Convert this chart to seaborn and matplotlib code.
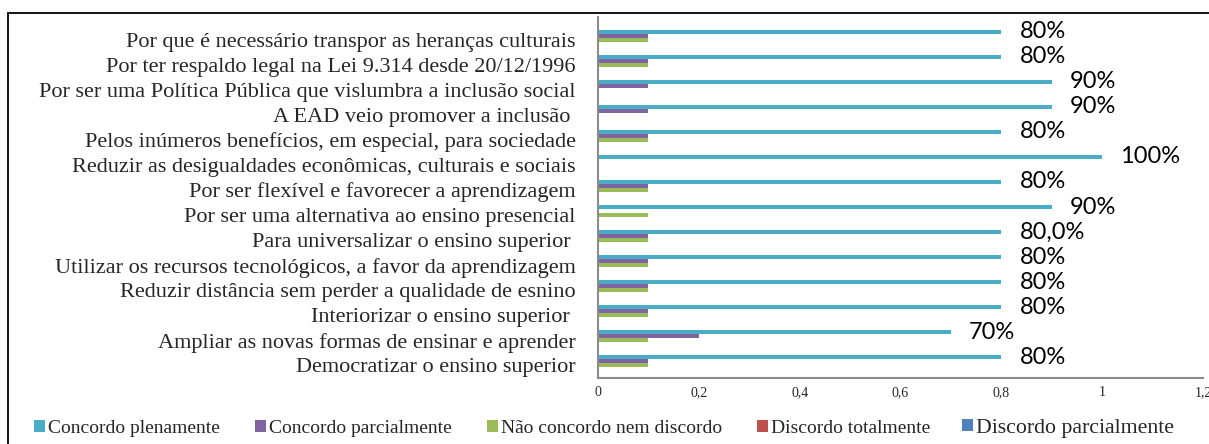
import numpy as np
import pandas as pd
import matplotlib.pyplot as plt
import seaborn as sns

# categorias (de cima para baixo)
motivos = [
    'Por que é necessário transpor as heranças culturais',
    'Por ter respaldo legal na Lei 9.314 desde 20/12/1996',
    'Por ser uma Política Pública que vislumbra a inclusão social',
    'A EAD veio promover a inclusão ',
    'Pelos inúmeros benefícios, em especial, para sociedade',
    'Reduzir as desigualdades econômicas, culturais e sociais',
    'Por ser flexível e favorecer a aprendizagem',
    'Por ser uma alternativa ao ensino presencial',
    'Para universalizar o ensino superior ',
    'Utilizar os recursos tecnológicos, a favor da aprendizagem',
    'Reduzir distância sem perder a qualidade de esnino',
    'Interiorizar o ensino superior ',
    'Ampliar as novas formas de ensinar e aprender',
    'Democratizar o ensino superior',
]

respostas = ['Concordo plenamente', 'Concordo parcialmente', 'Não concordo nem discordo',
             'Discordo totalmente', 'Discordo parcialmente']

concordo_plenamente = [0.8, 0.8, 0.9, 0.9, 0.8, 1.0, 0.8, 0.9, 0.8, 0.8, 0.8, 0.8, 0.7, 0.8]
concordo_parcialmente = [0.1, 0.1, 0.1, 0.1, 0.1, 0.0, 0.1, 0.0, 0.1, 0.1, 0.1, 0.1, 0.2, 0.1]
nem_concordo = [0.1, 0.1, 0.0, 0.0, 0.1, 0.0, 0.1, 0.1, 0.1, 0.1, 0.1, 0.1, 0.1, 0.1]
discordo_totalmente = [0.0] * 14
discordo_parcialmente = [0.0] * 14

rotulos = ['80%', '80%', '90%', '90%', '80%', '100%', '80%', '90%', '80,0%',
           '80%', '80%', '80%', '70%', '80%']
xticks = [0, 0.2, 0.4, 0.6, 0.8, 1.0, 1.2]
xticklabels = ['0', '0,2', '0,4', '0,6', '0,8', '1', '1,2']

cores = ['#4BACC6', '#8064A2', '#9BBB59', '#C0504D', '#4F81BD']

series = [concordo_plenamente, concordo_parcialmente, nem_concordo,
          discordo_totalmente, discordo_parcialmente]
df = pd.DataFrame({
    'motivo': motivos * len(respostas),
    'resposta': np.repeat(respostas, len(motivos)),
    'valor': np.concatenate(series),
})

sns.set_style('white')
plt.rcParams['font.family'] = ['Liberation Serif', 'DejaVu Serif']

W, H = 1209, 444
fig = plt.figure(figsize=(W / 100, H / 100), dpi=100)
ax = fig.add_axes([598 / W, 1 - 378 / H, (1203 - 598) / W, (378 - 17) / H])

sns.barplot(data=df, x='valor', y='motivo', hue='resposta', hue_order=respostas,
            order=motivos, palette=cores, saturation=1, orient='h', width=0.8,
            linewidth=0, ax=ax)

ax.set_xlim(0, 1.2)
ax.set_ylim(13.5, -0.9)
ax.set_xticks(xticks)
ax.set_xticklabels(xticklabels, fontsize=10)
ax.tick_params(axis='x', length=0, pad=6)
ax.tick_params(axis='y', length=0, pad=16, labelsize=16)
ax.set_xlabel('')
ax.set_ylabel('')
for s in ['top', 'right']:
    ax.spines[s].set_visible(False)
for s in ['left', 'bottom']:
    ax.spines[s].set_color('#8c8c8c')
    ax.spines[s].set_linewidth(1.5)

ax.bar_label(ax.containers[0], labels=rotulos, padding=13, fontsize=17,
             family='Lato', color='black')

handles, labels = ax.get_legend_handles_labels()
ax.get_legend().remove()
leg_x = [34, 255, 487, 757, 962]
for i, (h, l) in enumerate(zip(handles, labels)):
    fs = 15.7 if i == 4 else 14
    fig.legend([h], [l], loc='center left', bbox_to_anchor=(leg_x[i] / W, 1 - 428 / H),
               frameon=False, borderpad=0, borderaxespad=0, handlelength=11 / (fs * 1.389),
               handleheight=11 / (fs * 1.389), handletextpad=0.15, fontsize=fs)

# moldura do gráfico
fig.add_artist(plt.Rectangle((8 / W, -0.05), 1.1, 1 - 13 / H + 0.05,
                             transform=fig.transFigure, fill=False, lw=1.3, ec='black'))

fig.savefig('out.png', dpi=100)
